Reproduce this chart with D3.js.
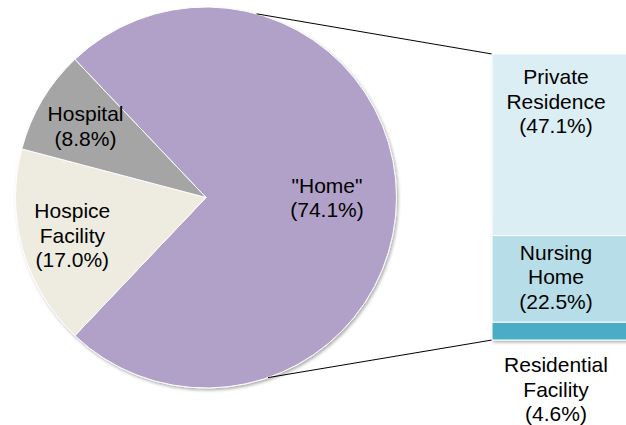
<!DOCTYPE html>
<html lang="en">
<head>
<meta charset="UTF-8">
<title>Place of death</title>
<script src="https://d3js.org/d3.v7.min.js"></script>
<style>
    html, body { margin: 0; padding: 0; background: #fff; }
    svg { display: block; font-family: "Liberation Sans", Arial, sans-serif; }
</style>
</head>
<body>
<svg id="chart" width="626" height="425"></svg>
<script>
    // main pie
    const pieNames = ['"Home"', "Hospice Facility", "Hospital"];
    const pieValues = [74.1, 17.0, 8.8];
    const pieColors = ["#b1a0c7", "#eeece1", "#a5a5a5"];

    // split of "Home"
    const barNames = ["Private Residence", "Nursing Home", "Residential Facility"];
    const barValues = [47.1, 22.5, 4.6];
    const barColors = ["#dbeef4", "#b7dee8", "#4bacc6"];

    const width = 626, height = 425;
    const cx = 206, cy = 197.5, radius = 190.5;
    const barX = 492, barW = 142, barTop = 54, barBottom = 340;
    const fontSize = 21, lineH = 24.5;

    const svg = d3.select("#chart");

    const defs = svg.append("defs");
    const shadow = defs.append("filter").attr("id", "shadow")
        .attr("x", "-10%").attr("y", "-10%").attr("width", "120%").attr("height", "120%");
    shadow.append("feDropShadow")
        .attr("dx", 1.5).attr("dy", 2).attr("stdDeviation", 1.5)
        .attr("flood-color", "#000").attr("flood-opacity", 0.3);

    // pie rotated so "Home" is centred on the right
    const total = d3.sum(pieValues);
    const offset = Math.PI / 2 - (pieValues[0] / total) * Math.PI;
    const pie = d3.pie().sort(null).value(d => d.value)
        .startAngle(offset).endAngle(offset + 2 * Math.PI);
    const arcs = pie(pieNames.map((n, i) => ({name: n, value: pieValues[i], color: pieColors[i]})));
    const arc = d3.arc().innerRadius(0).outerRadius(radius);

    const g = svg.append("g").attr("transform", `translate(${cx},${cy})`);
    g.append("g").attr("filter", "url(#shadow)")
        .selectAll("path")
        .data(arcs)
        .enter()
        .append("path")
        .attr("d", arc)
        .attr("fill", d => d.data.color)
        .attr("stroke", "#fff")
        .attr("stroke-width", 1);

    const labelR = [121, 139, 140];
    g.selectAll("text.lbl")
        .data(arcs)
        .enter()
        .append("text")
        .attr("class", "lbl")
        .attr("font-size", fontSize)
        .attr("text-anchor", "middle")
        .each(function (d, i) {
            const a = (d.startAngle + d.endAngle) / 2;
            const x = Math.sin(a) * labelR[i], y = -Math.cos(a) * labelR[i];
            const lines = d.data.name.split(" ").concat([`(${d.data.value.toFixed(1)}%)`]);
            const t = d3.select(this);
            lines.forEach((ln, k) => {
                t.append("tspan")
                    .attr("x", x)
                    .attr("y", y + (k - (lines.length - 1) / 2) * lineH + 7.5)
                    .text(ln);
            });
        });

    // stacked bar
    const subTotal = d3.sum(barValues);
    const yScale = d3.scaleLinear().domain([0, subTotal]).range([barTop, barBottom]);
    const stacked = barValues.map((v, i) => ({
        name: barNames[i], value: v, color: barColors[i],
        y0: d3.sum(barValues.slice(0, i)), y1: d3.sum(barValues.slice(0, i + 1))
    }));

    // connector lines from the pie to the bar
    const topA = 15.4 * Math.PI / 180, botA = 161 * Math.PI / 180;
    svg.append("line")
        .attr("x1", cx + Math.sin(topA) * radius).attr("y1", cy - Math.cos(topA) * radius)
        .attr("x2", barX).attr("y2", yScale(0))
        .attr("stroke", "#000").attr("stroke-width", 1);
    svg.append("line")
        .attr("x1", cx + Math.sin(botA) * radius).attr("y1", cy - Math.cos(botA) * radius)
        .attr("x2", barX).attr("y2", yScale(subTotal))
        .attr("stroke", "#000").attr("stroke-width", 1);

    svg.append("g").attr("filter", "url(#shadow)")
        .selectAll("rect")
        .data(stacked)
        .enter()
        .append("rect")
        .attr("x", barX)
        .attr("y", d => yScale(d.y0))
        .attr("width", barW)
        .attr("height", d => yScale(d.y1) - yScale(d.y0))
        .attr("fill", d => d.color)
        .attr("stroke", "#fff")
        .attr("stroke-width", 1);

    const barLabel = (d, i) => {
        const lines = d.name.split(" ").concat([`(${d.value.toFixed(1)}%)`]);
        let yc;
        if (i === 0) yc = yScale(d.y0) + 47;
        else if (i === 1) yc = (yScale(d.y0) + yScale(d.y1)) / 2 - 2;
        else yc = yScale(d.y1) + 49;
        return {lines, yc};
    };

    svg.selectAll("text.blbl")
        .data(stacked)
        .enter()
        .append("text")
        .attr("class", "blbl")
        .attr("font-size", fontSize)
        .attr("text-anchor", "middle")
        .each(function (d, i) {
            const {lines, yc} = barLabel(d, i);
            const t = d3.select(this);
            lines.forEach((ln, k) => {
                t.append("tspan")
                    .attr("x", barX + barW / 2 - 7)
                    .attr("y", yc + (k - (lines.length - 1) / 2) * lineH + 7.5)
                    .text(ln);
            });
        });
</script>
</body>
</html>
